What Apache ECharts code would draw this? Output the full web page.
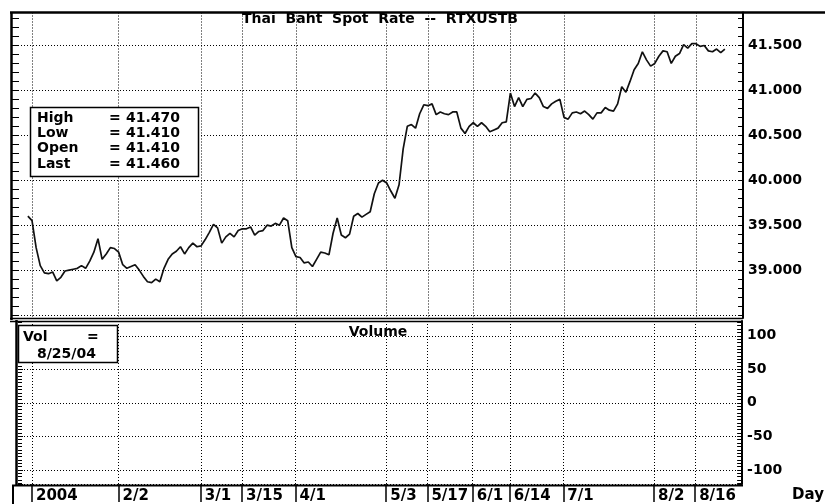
<!DOCTYPE html>
<html>
<head>
<meta charset="utf-8">
<title>Thai Baht Spot Rate</title>
<script src="https://cdn.jsdelivr.net/npm/echarts@6/dist/echarts.min.js"></script>
</head>
<body style="margin:0;background:#fff;">
<div id="main" style="width:825px;height:504px;"></div>
<script>
// daily spot rate, one value per trading day, 12/31/03 .. 8/25/04
var rates = [
  39.60, 39.55, 39.25, 39.05, 38.97, 38.96, 38.98, 38.88, 38.92, 38.99,
  39.00, 39.01, 39.02, 39.05, 39.02, 39.10, 39.20, 39.35, 39.12, 39.18,
  39.25, 39.24, 39.20, 39.06, 39.02, 39.04, 39.06, 39.00, 38.93, 38.87,
  38.86, 38.90, 38.87, 39.02, 39.12, 39.18, 39.21, 39.26, 39.18, 39.25,
  39.30, 39.26, 39.27, 39.34, 39.42, 39.51, 39.47, 39.30, 39.37, 39.41,
  39.37, 39.44, 39.46, 39.46, 39.48, 39.39, 39.43, 39.44, 39.50, 39.49,
  39.52, 39.50, 39.58, 39.55, 39.25, 39.15, 39.14, 39.08, 39.09, 39.04,
  39.12, 39.20, 39.19, 39.17, 39.41, 39.58, 39.39, 39.36, 39.40, 39.60,
  39.63, 39.59, 39.62, 39.65, 39.85, 39.97, 40.00, 39.97, 39.88, 39.80,
  39.95, 40.35, 40.60, 40.62, 40.58, 40.74, 40.84, 40.83, 40.85, 40.73,
  40.76, 40.74, 40.73, 40.76, 40.76, 40.58, 40.52, 40.60, 40.64, 40.60,
  40.64, 40.60, 40.54, 40.56, 40.58, 40.64, 40.65, 40.97, 40.82, 40.92,
  40.82, 40.90, 40.91, 40.97, 40.92, 40.82, 40.80, 40.85, 40.88, 40.90,
  40.70, 40.68, 40.75, 40.76, 40.74, 40.77, 40.73, 40.68, 40.75, 40.75,
  40.81, 40.78, 40.77, 40.85, 41.04, 40.98, 41.10, 41.23, 41.30, 41.43,
  41.34, 41.27, 41.30, 41.38, 41.44, 41.43, 41.30, 41.38, 41.41, 41.51,
  41.47, 41.52, 41.52, 41.49, 41.50, 41.44, 41.43, 41.46, 41.42, 41.46
];
var firstDay = -1; // 12/31/03 is one trading day before 1/2/04 (day 0)

// date ticks, as trading-day numbers
var tickDays = [0, 21, 41, 51, 64, 86, 96, 107, 116, 129, 151, 161];
var tickLabels = ['2004', '2/2', '3/1', '3/15', '4/1', '5/3', '5/17', '6/1', '6/14', '7/1', '8/2', '8/16'];

var priceLabels = [39, 39.5, 40, 40.5, 41, 41.5];
var volLabels = [-100, -50, 0, 50, 100];

var statNames = ['High', 'Low', 'Open', 'Last'];
var statValues = ['41.470', '41.410', '41.410', '41.460'];
var volDate = '8/25/04';

var FONT = 'DejaVu Sans';
var black = '#000';
var dotted = { color: black, width: 1, type: [1, 2] };

// layout
var priceLeft = 12, volLeft = 18, plotRight = 743;
var xMax = 172.4, xMinPrice = -4.85;
var pxPerDay = (plotRight - priceLeft) / (xMax - xMinPrice);
var xMinVol = xMinPrice + (volLeft - priceLeft) / pxPerDay;

function txt(s, x, y, size, align) {
  return {
    type: 'text', z: 20,
    style: { text: s, x: x, y: y, fill: black, align: align || 'left', verticalAlign: 'middle',
             font: 'bold ' + (size || 14) + 'px "' + FONT + '"' }
  };
}
function seg(x1, y1, x2, y2, w) {
  return { type: 'line', z: 15, shape: { x1: x1, y1: y1, x2: x2, y2: y2 },
           style: { stroke: black, lineWidth: w } };
}

var graphics = [
  seg(10, 12.5, 825, 12.5, 2.5),
  seg(11.5, 12, 11.5, 320, 2.5),
  seg(10, 318.5, plotRight, 318.5, 1.5),
  seg(10, 321.5, plotRight, 321.5, 1.5),
  seg(16.5, 320, 16.5, 486, 2.5),
  seg(13, 485, 13, 504, 2),
  seg(12, 485.5, plotRight, 485.5, 2),
  { type: 'rect', z: 18, shape: { x: 30.5, y: 107.5, width: 168, height: 69 },
    style: { fill: '#fff', stroke: black, lineWidth: 1.5 } },
  { type: 'rect', z: 18, shape: { x: 18.5, y: 325.5, width: 99, height: 37 },
    style: { fill: '#fff', stroke: black, lineWidth: 1.5 } },
  txt('Vol', 23, 337),
  txt('=', 87, 337),
  txt(volDate, 37, 354)
];
statNames.forEach(function (n, i) {
  var y = 118 + i * 15.3;
  graphics.push(txt(n, 37, y));
  graphics.push(txt('=', 109, y));
  graphics.push(txt(statValues[i], 126, y));
});

var labelFont = { fontFamily: FONT, fontWeight: 'bold', fontSize: 14, color: black };
var noZeroLine = function (extra) {
  return Object.assign({ onZero: false }, extra);
};

var myChart = echarts.init(document.getElementById('main'));
var option = {
  animation: false,
  backgroundColor: '#fff',
  title: [
    { text: 'Thai  Baht  Spot  Rate  --  RTXUSTB', left: 380, top: 12, textAlign: 'center', padding: 0,
      textStyle: labelFont },
    { text: 'Volume', left: 378, top: 325, textAlign: 'center', padding: 0, textStyle: labelFont }
  ],
  grid: [
    { left: priceLeft, right: 825 - plotRight, top: 12.5, height: 305.5 },
    { left: volLeft, right: 825 - plotRight, top: 321, height: 164.5 }
  ],
  xAxis: [
    { gridIndex: 0, type: 'value', min: xMinPrice, max: xMax,
      axisLine: noZeroLine({ show: false }), axisLabel: { show: false },
      axisTick: { show: false, customValues: tickDays },
      splitLine: { show: true, lineStyle: dotted } },
    { gridIndex: 1, type: 'value', position: 'bottom', min: xMinVol, max: xMax,
      axisLine: noZeroLine({ show: false }),
      axisTick: { show: true, customValues: tickDays, length: 18, lineStyle: { color: black, width: 1.5 } },
      axisLabel: Object.assign({ customValues: tickDays, align: 'left', margin: 5, padding: [0, 0, 0, 4],
        formatter: function (v) { return tickLabels[tickDays.indexOf(v)]; } }, labelFont, { fontSize: 15 }),
      splitLine: { show: true, lineStyle: dotted },
      name: 'Day', nameLocation: 'end', nameGap: 50,
      nameTextStyle: Object.assign({}, labelFont, { fontSize: 15, align: 'left', verticalAlign: 'top', padding: [4, 0, 0, 0] }) }
  ],
  yAxis: [
    { gridIndex: 0, type: 'value', position: 'right', min: 38.467, max: 41.867, splitNumber: 7,
      axisLine: noZeroLine({ show: true, lineStyle: { color: black, width: 2 } }),
      axisTick: { show: true, inside: true, length: 5, lineStyle: { color: black } },
      minorTick: { show: true, splitNumber: 5, length: 5, lineStyle: { color: black } },
      axisLabel: Object.assign({ margin: 5, customValues: priceLabels,
        formatter: function (v) { return v.toFixed(3); } }, labelFont),
      splitLine: { show: true, lineStyle: dotted } },
    { gridIndex: 0, type: 'value', position: 'left', min: 38.467, max: 41.867, splitNumber: 7,
      axisLine: noZeroLine({ show: false }),
      axisTick: { show: true, inside: true, length: 7, lineStyle: { color: black } },
      minorTick: { show: true, splitNumber: 5, length: 7, lineStyle: { color: black } },
      axisLabel: { show: false }, splitLine: { show: false } },
    { gridIndex: 1, type: 'value', position: 'right', min: -121, max: 122, splitNumber: 5,
      axisLine: noZeroLine({ show: true, lineStyle: { color: black, width: 2 } }),
      axisTick: { show: true, inside: true, length: 5, lineStyle: { color: black } },
      minorTick: { show: true, splitNumber: 10, length: 5, lineStyle: { color: black } },
      axisLabel: Object.assign({ margin: 5, customValues: volLabels }, labelFont),
      splitLine: { show: true, lineStyle: dotted } },
    { gridIndex: 1, type: 'value', position: 'left', min: -121, max: 122, splitNumber: 5,
      axisLine: noZeroLine({ show: false }),
      axisTick: { show: true, inside: true, length: 5, lineStyle: { color: black } },
      minorTick: { show: true, splitNumber: 10, length: 4, lineStyle: { color: black } },
      axisLabel: { show: false }, splitLine: { show: false } }
  ],
  series: [
    { name: 'RTXUSTB', type: 'line', xAxisIndex: 0, yAxisIndex: 0, symbol: 'none',
      lineStyle: { color: '#111', width: 1.7 },
      data: rates.map(function (v, i) { return [firstDay + i, v]; }) },
    { name: 'Volume', type: 'line', xAxisIndex: 1, yAxisIndex: 2, symbol: 'none', data: [] }
  ],
  graphic: graphics
};
myChart.setOption(option);
</script>
</body>
</html>
